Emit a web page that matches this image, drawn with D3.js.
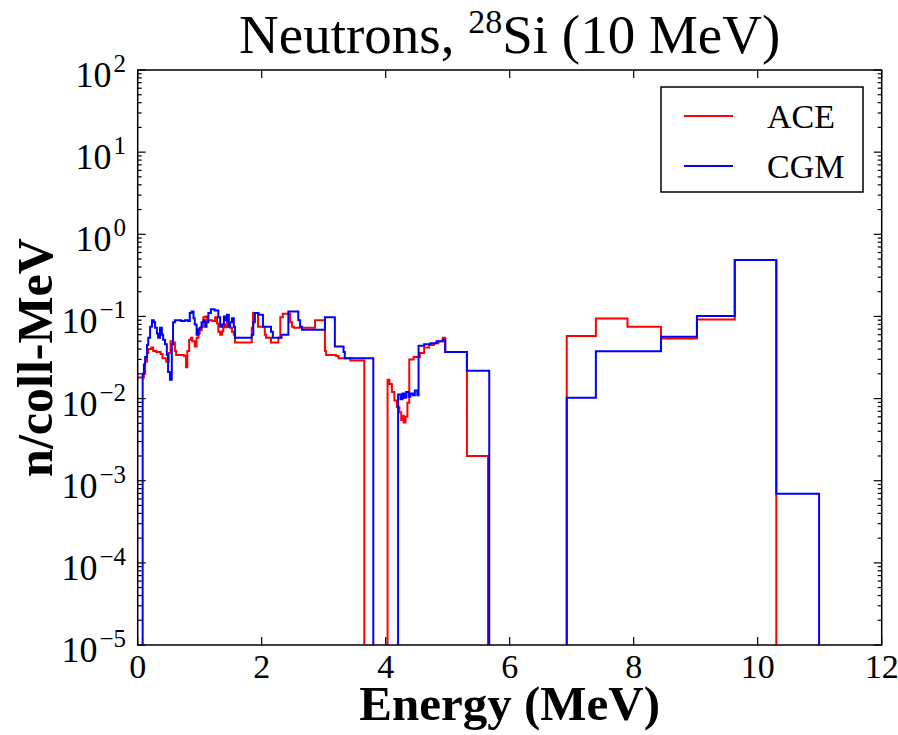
<!DOCTYPE html>
<html>
<head>
<meta charset="utf-8">
<script src="https://cdn.jsdelivr.net/npm/d3@7"></script>
<style>
  html, body { margin: 0; padding: 0; background: #fff; }
  svg { display: block; font-family: "Liberation Serif", "Times New Roman", serif; }
</style>
</head>
<body>
<div id="chart"></div>
<script>
// step histograms: each energy is the left edge of a bin, last value runs to the next edge
const aceEnergy = [0.00, 0.10, 0.12, 0.15, 0.17, 0.22, 0.25, 0.30, 0.37, 0.40, 0.46, 0.50, 0.53, 0.57, 0.60, 0.62,
  0.75, 0.78, 0.80, 0.83, 0.86, 0.88, 0.92, 0.95, 0.98, 1.00, 1.03, 1.06, 1.09, 1.12, 1.20, 1.25, 1.28, 1.30,
  1.33, 1.36, 1.38, 1.41, 1.44, 1.46, 1.49, 1.52, 1.55, 1.57, 1.84, 1.86, 1.94, 2.05, 2.07, 2.15, 2.27, 2.30,
  2.34, 2.46, 2.49, 2.52, 2.86, 3.02, 3.04, 3.20, 3.24, 3.43, 3.655, 4.03, 4.06, 4.10, 4.14, 4.18, 4.22, 4.25,
  4.27, 4.29, 4.32, 4.35, 4.38, 4.45, 4.55, 4.62, 4.70, 4.78, 4.85, 4.92, 4.96, 5.31, 5.65, 6.92, 7.39, 7.90,
  8.44, 9.02, 9.63, 10.30, 12.0];
const aceFlux = [0.018, 0.020, 0.028, 0.036, 0.040, 0.042, 0.038, 0.037, 0.035, 0.031, 0.028, 0.036, 0.050, 0.048,
  0.038, 0.034, 0.033, 0.024, 0.038, 0.052, 0.055, 0.050, 0.043, 0.055, 0.062, 0.068, 0.075, 0.098, 0.100, 0.090,
  0.088, 0.098, 0.082, 0.065, 0.060, 0.066, 0.080, 0.074, 0.090, 0.076, 0.073, 0.065, 0.060, 0.048, 0.073, 0.110,
  0.075, 0.060, 0.055, 0.048, 0.055, 0.098, 0.108, 0.085, 0.075, 0.073, 0.090, 0.038, 0.034, 0.033, 0.031, 0.029,
  0, 0.017, 0.015, 0.012, 0.0095, 0.0079, 0.0068, 0.0055, 0.0062, 0.0051, 0.0060, 0.0089, 0.030, 0.032, 0.036,
  0.042, 0.045, 0.047, 0.050, 0.055, 0.037, 0.0020, 0, 0.0576, 0.0946, 0.0749, 0.054, 0.092, 0.486, 0, 0];

const cgmEnergy = [0.00, 0.08, 0.10, 0.12, 0.15, 0.17, 0.20, 0.23, 0.26, 0.28, 0.31, 0.33, 0.36, 0.39, 0.41, 0.44,
  0.47, 0.49, 0.52, 0.55, 0.57, 0.60, 0.70, 0.76, 0.81, 0.84, 0.87, 0.90, 0.92, 0.95, 0.98, 1.00, 1.03, 1.06,
  1.09, 1.11, 1.14, 1.18, 1.24, 1.30, 1.33, 1.36, 1.39, 1.41, 1.44, 1.47, 1.49, 1.52, 1.55, 1.57, 1.84, 1.865,
  1.89, 1.95, 2.02, 2.15, 2.18, 2.32, 2.43, 2.59, 2.62, 2.65, 3.02, 3.18, 3.32, 3.34, 3.80, 4.20, 4.24, 4.27,
  4.30, 4.33, 4.37, 4.40, 4.44, 4.47, 4.51, 4.53, 4.62, 4.72, 4.82, 4.92, 4.96, 5.31, 5.67, 6.92, 7.39, 8.44,
  9.02, 9.63, 10.30, 10.99, 12.0];
const cgmFlux = [0, 0.020, 0.026, 0.032, 0.045, 0.055, 0.075, 0.090, 0.085, 0.073, 0.062, 0.055, 0.073, 0.060, 0.052,
  0.046, 0.034, 0.021, 0.017, 0.046, 0.085, 0.090, 0.088, 0.090, 0.088, 0.110, 0.115, 0.095, 0.080, 0.060, 0.070,
  0.073, 0.085, 0.090, 0.075, 0.085, 0.110, 0.122, 0.118, 0.098, 0.075, 0.080, 0.100, 0.090, 0.105, 0.075, 0.085,
  0.095, 0.075, 0.055, 0.060, 0.085, 0.110, 0.105, 0.075, 0.065, 0.055, 0.060, 0.115, 0.090, 0.075, 0.069, 0.098,
  0.043, 0.037, 0.031, 0, 0.0112, 0.0098, 0.0115, 0.0102, 0.0120, 0.0105, 0.0115, 0.0110, 0.0125, 0.0110, 0.044,
  0.046, 0.047, 0.050, 0.052, 0.037, 0.0218, 0, 0.0102, 0.0378, 0.0565, 0.101, 0.486, 0.000694, 0, 0];

const seriesNames = ["ACE", "CGM"];
const seriesColors = ["#ff0000", "#0000ff"];
const xTicks = [0, 2, 4, 6, 8, 10, 12];
const yExponents = [-5, -4, -3, -2, -1, 0, 1, 2];

const W = 898, H = 735;
const plot = { left: 137.7, right: 881.7, top: 70, bottom: 645 };

const x = d3.scaleLinear().domain([0, 12]).range([plot.left, plot.right]);
const y = d3.scaleLog().domain([1e-5, 1e2]).range([plot.bottom, plot.top]);

const svg = d3.select("#chart").append("svg")
  .attr("width", W).attr("height", H)
  .attr("viewBox", `0 0 ${W} ${H}`);

svg.append("rect").attr("width", W).attr("height", H).attr("fill", "#fff");

svg.append("clipPath").attr("id", "plotClip")
  .append("rect")
  .attr("x", plot.left).attr("y", plot.top)
  .attr("width", plot.right - plot.left).attr("height", plot.bottom - plot.top);

// zero counts fall off the bottom of the log axis
const yOf = v => (v > 0 ? y(v) : plot.bottom + 200);

const toPoints = (es, vs) => es.map((e, i) => [e, vs[i]]);
const line = d3.line()
  .x(d => x(d[0]))
  .y(d => yOf(d[1]))
  .curve(d3.curveStepAfter);

const data = [toPoints(aceEnergy, aceFlux), toPoints(cgmEnergy, cgmFlux)];

svg.append("g").attr("clip-path", "url(#plotClip)")
  .selectAll("path")
  .data(data)
  .join("path")
  .attr("d", line)
  .attr("fill", "none")
  .attr("stroke", (d, i) => seriesColors[i])
  .attr("stroke-width", 2)
  .attr("stroke-linejoin", "miter");

// ticks on all four sides, pointing inward
const tickG = svg.append("g").attr("stroke", "#000").attr("stroke-width", 1.2);
xTicks.forEach(t => {
  tickG.append("line").attr("x1", x(t)).attr("x2", x(t)).attr("y1", plot.bottom).attr("y2", plot.bottom - 8);
  tickG.append("line").attr("x1", x(t)).attr("x2", x(t)).attr("y1", plot.top).attr("y2", plot.top + 8);
});
yExponents.forEach(p => {
  const yy = y(Math.pow(10, p));
  tickG.append("line").attr("x1", plot.left).attr("x2", plot.left + 8).attr("y1", yy).attr("y2", yy);
  tickG.append("line").attr("x1", plot.right).attr("x2", plot.right - 8).attr("y1", yy).attr("y2", yy);
  if (p < 2) {
    for (let k = 2; k <= 9; k++) {
      const ym = y(k * Math.pow(10, p));
      tickG.append("line").attr("x1", plot.left).attr("x2", plot.left + 4).attr("y1", ym).attr("y2", ym);
      tickG.append("line").attr("x1", plot.right).attr("x2", plot.right - 4).attr("y1", ym).attr("y2", ym);
    }
  }
});

svg.append("rect")
  .attr("x", plot.left).attr("y", plot.top)
  .attr("width", plot.right - plot.left).attr("height", plot.bottom - plot.top)
  .attr("fill", "none").attr("stroke", "#000").attr("stroke-width", 1.5);

// tick labels
svg.append("g").selectAll("text")
  .data(xTicks)
  .join("text")
  .attr("x", d => x(d))
  .attr("y", 678)
  .attr("text-anchor", "middle")
  .attr("font-size", 34)
  .text(d => d);

const yLab = svg.append("g").selectAll("text")
  .data(yExponents)
  .join("text")
  .attr("x", 126)
  .attr("y", d => y(Math.pow(10, d)) + 17)
  .attr("text-anchor", "end")
  .attr("font-size", 36);
yLab.append("tspan").text("10");
yLab.append("tspan")
  .attr("dy", -15)
  .attr("dx", 2)
  .attr("font-size", 25)
  .text(d => (d < 0 ? "\u2212" + Math.abs(d) : String(d)));

// title with superscript mass number
const title = svg.append("text")
  .attr("x", (plot.left + plot.right) / 2)
  .attr("y", 53)
  .attr("text-anchor", "middle")
  .attr("font-size", 55);
title.append("tspan").text("Neutrons, ");
title.append("tspan").attr("dy", -20).attr("font-size", 34).text("28");
title.append("tspan").attr("dy", 20).text("Si (10 MeV)");

svg.append("text")
  .attr("x", (plot.left + plot.right) / 2)
  .attr("y", 720)
  .attr("text-anchor", "middle")
  .attr("font-size", 49)
  .attr("font-weight", "bold")
  .text("Energy (MeV)");

svg.append("text")
  .attr("transform", `translate(52, ${(plot.top + plot.bottom) / 2}) rotate(-90)`)
  .attr("text-anchor", "middle")
  .attr("font-size", 50)
  .attr("font-weight", "bold")
  .text("n/coll-MeV");

// legend
const legend = svg.append("g");
legend.append("rect")
  .attr("x", 661).attr("y", 87).attr("width", 202).attr("height", 105)
  .attr("fill", "#fff").attr("stroke", "#000").attr("stroke-width", 1.5);
seriesNames.forEach((name, i) => {
  const ly = 116 + i * 50;
  legend.append("line")
    .attr("x1", 684).attr("x2", 733).attr("y1", ly).attr("y2", ly)
    .attr("stroke", seriesColors[i]).attr("stroke-width", 2);
  legend.append("text")
    .attr("x", 767).attr("y", ly + 12)
    .attr("font-size", 34)
    .text(name);
});
</script>
</body>
</html>
